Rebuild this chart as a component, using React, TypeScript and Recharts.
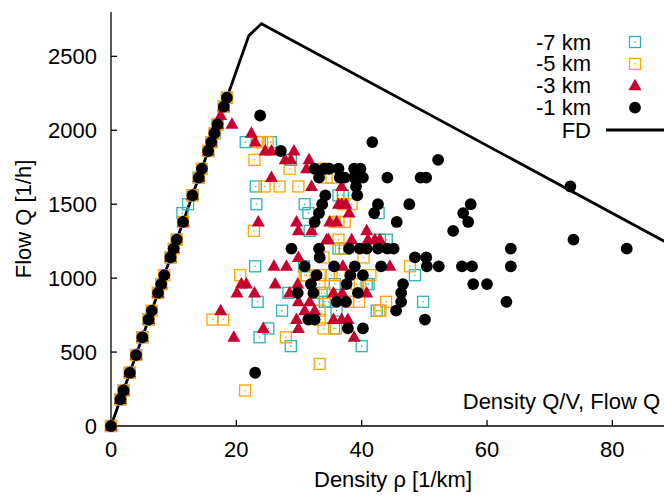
import { ComposedChart, Scatter, Line, XAxis, YAxis } from "recharts";

// density rho [1/km], flow Q [1/h]
const X_TICKS = [0, 20, 40, 60, 80];
const Y_TICKS = [0, 500, 1000, 1500, 2000, 2500];

const KM7: [number, number][] = [
  [0, 0], [1.5, 180], [2, 240], [3, 360], [4, 480], [5, 600], [6, 720], [7.5, 900],
  [8, 960], [9.5, 1140], [10.5, 1260], [11.4, 1440], [12.3, 1500], [13, 1560],
  [14, 1680], [15.5, 1860], [16, 1920], [16.6, 1980], [17, 2040], [18, 2160], [18.5, 2220],
  [21.5, 1920], [25.5, 1920], [28.7, 1800], [23.1, 1620], [23.2, 1500], [30.9, 1500],
  [31.5, 1440], [31.7, 1320], [36.3, 1560], [37.0, 1560], [42.7, 1440], [44.0, 1260],
  [42.9, 1260], [36.3, 1200], [37.3, 1200], [23.0, 1080], [30.8, 1080], [23.4, 840],
  [27.3, 780], [25.1, 660], [23.7, 600], [28.7, 540], [28.3, 900], [34.1, 840],
  [33.6, 900], [35.6, 660], [36.0, 780], [34.7, 840], [48.5, 1020], [49.8, 840],
  [42.4, 780], [40.0, 540], [35.7, 960], [40.8, 960], [41.1, 960], [31.2, 1020],
];

const KM5: [number, number][] = [
  [0, 0], [1.5, 180], [2, 240], [3, 360], [4, 480], [5, 600], [6, 720], [6.5, 780],
  [7.5, 900], [8, 960], [8.5, 1020], [9.5, 1140], [10, 1200], [10.5, 1260], [11.5, 1380],
  [13, 1560], [14, 1680], [14.5, 1740], [15.5, 1860], [16, 1920], [16.5, 1980], [17, 2040],
  [18, 2160], [18.5, 2220],
  [22.9, 1800], [23.5, 1920], [24.1, 1920], [25.0, 1920], [24.5, 1620], [26.9, 1620],
  [29.9, 1620], [28.5, 1740], [22.8, 1320], [33.9, 1740], [34.4, 1680], [35.2, 1680],
  [36.3, 1380], [37.0, 1500], [38.4, 1500], [35.7, 1380], [37.3, 1380], [36.3, 1260],
  [36.7, 1200], [33.9, 1140], [40.3, 1140], [47.7, 1080], [30.9, 1020], [35.2, 1020],
  [36.5, 1020], [41.4, 1020], [33.3, 960], [39.2, 960], [34.1, 900], [37.8, 840],
  [39.6, 840], [43.9, 840], [42.8, 780], [43.0, 780], [33.3, 720], [33.9, 660],
  [35.9, 660], [33.3, 420], [20.6, 1020], [27.9, 600], [21.4, 240], [16.2, 720],
  [17.9, 720], [31.2, 1020], [33.3, 1020], [33.3, 780], [39.7, 960],
];

const KM3: [number, number][] = [
  [0, 0], [1.5, 180], [2, 240], [3, 360], [4, 480], [5, 600], [6, 720], [7.5, 900],
  [8, 960], [9.5, 1140], [10, 1200], [11.5, 1380], [13, 1560], [14, 1680], [15.5, 1860],
  [16, 1920], [17, 2040], [18, 2160],
  [17.5, 2100], [19.3, 2040], [22.4, 1980], [23.0, 1920], [24.6, 1860], [25.6, 1860],
  [29.2, 1860], [27.8, 1800], [28.7, 1800], [31.6, 1800], [31.2, 1740], [25.6, 1680],
  [32.0, 1620], [36.8, 1620], [23.5, 1380], [29.6, 1380], [34.9, 1380], [36.0, 1380],
  [36.8, 1500], [36.3, 1500], [37.5, 1500], [38.0, 1440], [29.9, 1320], [32.0, 1320],
  [40.8, 1320], [34.4, 1260], [38.4, 1260], [41.0, 1260], [42.1, 1260], [42.9, 1260],
  [34.7, 1260], [37.0, 1080], [44.5, 1080], [35.5, 900], [36.9, 900], [40.8, 900],
  [31.7, 840], [30.9, 780], [32.5, 780], [35.5, 720], [36.8, 720], [37.8, 720],
  [38.8, 600], [26.0, 1080], [28.0, 1080], [29.9, 1140], [20.8, 960], [21.6, 960],
  [26.2, 960], [29.8, 960], [20.1, 900], [22.9, 900], [28.5, 900], [29.9, 840],
  [29.6, 720], [17.5, 780], [24.3, 660], [29.9, 660], [19.6, 600],
];

const KM1: [number, number][] = [
  [0, 0], [1.5, 180], [2, 240], [3, 360], [4, 480], [5, 600], [6, 720], [6.5, 780],
  [7.5, 900], [8, 960], [8.5, 1020], [9.5, 1140], [10, 1200], [10.5, 1260], [11.5, 1380],
  [13, 1560], [14, 1680], [14.5, 1740], [15.5, 1860], [16, 1920], [16.5, 1980], [17, 2040],
  [18, 2160], [18.5, 2220],
  [23.8, 2100], [27.1, 1860], [32.5, 1740], [34.0, 1740], [34.8, 1740], [36.3, 1740],
  [38.8, 1740], [39.8, 1740], [33.2, 1680], [36.5, 1680], [37.3, 1680], [38.8, 1680],
  [40.2, 1680], [44.1, 1680], [49.4, 1680], [50.3, 1680], [41.7, 1920], [52.2, 1800],
  [39.1, 1620], [73.3, 1620], [34.2, 1560], [39.3, 1560], [33.7, 1500], [42.6, 1500],
  [47.6, 1500], [57.4, 1500], [33.2, 1440], [42.0, 1440], [56.2, 1440], [32.5, 1380],
  [45.6, 1380], [57.0, 1380], [54.6, 1320], [73.8, 1260], [28.8, 1200], [33.2, 1200],
  [38.0, 1200], [39.7, 1200], [40.8, 1200], [42.6, 1200], [44.1, 1200], [45.1, 1200],
  [63.8, 1200], [82.3, 1200], [33.3, 1140], [48.5, 1140], [50.3, 1140], [30.9, 1080],
  [35.6, 1080], [38.9, 1080], [43.1, 1080], [50.4, 1080], [52.3, 1080], [56.0, 1080],
  [57.6, 1080], [63.8, 1080], [32.8, 1020], [38.2, 1020], [40.2, 1020], [31.9, 960],
  [37.6, 960], [46.6, 960], [57.8, 960], [60.0, 960], [29.8, 900], [32.3, 900],
  [39.4, 900], [46.3, 900], [36.0, 840], [37.5, 840], [46.3, 840], [63.1, 840],
  [45.5, 780], [31.5, 720], [32.5, 720], [50.1, 720], [37.8, 660], [40.2, 660],
  [23.0, 360],
];

// fundamental diagram
const FD: [number, number][] = [[0, 0], [22, 2640], [24, 2720], [90, 1210]];

const toPts = (arr: [number, number][]) => arr.map(([x, y]) => ({ x, y }));

const CYAN = "#2db3b3";
const ORANGE = "#ffa500";
const RED = "#c80030";
const FONT = '"Liberation Sans", Arial, sans-serif';
const FS = 22;

const Square = (color: string) => (p: any) => (
  <g>
    <rect x={p.cx - 5.5} y={p.cy - 5.5} width={11} height={11} fill="none" stroke={color} strokeWidth={1.3} />
    <circle cx={p.cx} cy={p.cy} r={0.8} fill={color} />
  </g>
);
const Triangle = (p: any) => (
  <path d={`M${p.cx},${p.cy - 7}L${p.cx + 6.5},${p.cy + 4.5}L${p.cx - 6.5},${p.cy + 4.5}Z`} fill={RED} />
);
const Dot = (p: any) => <circle cx={p.cx} cy={p.cy} r={5.9} fill="#000" />;

const SERIES = [
  { name: "-7 km", data: KM7, shape: Square(CYAN) },
  { name: "-5 km", data: KM5, shape: Square(ORANGE) },
  { name: "-3 km", data: KM3, shape: Triangle },
  { name: "-1 km", data: KM1, shape: Dot },
];

export default function App() {
  return (
    <div
      style={{
        position: "absolute", left: 0, top: 0, width: 664, height: 496,
        overflow: "hidden", background: "#fff", fontFamily: FONT,
      }}
    >
      <ComposedChart width={700} height={496} margin={{ top: 12, right: 25, bottom: 0, left: 0 }}>
        <XAxis
          xAxisId="bottom" dataKey="x" type="number" domain={[0, 90]} ticks={X_TICKS}
          height={70} tickSize={-6} tickMargin={21}
          stroke="#000" strokeWidth={1.3}
          tick={{ fill: "#000", fontSize: FS, fontFamily: FONT }}
          label={{
            content: (p: any) => (
              <text x={p.viewBox.x + p.viewBox.width / 2} y={p.viewBox.y + 53} textAnchor="middle"
                dominantBaseline="central" fontSize={FS} fontFamily={FONT} fill="#000">
                Density ρ [1/km]
              </text>
            ),
          }}
        />
        <XAxis
          xAxisId="top" orientation="top" type="number" domain={[0, 90]} ticks={X_TICKS}
          height={0} tickSize={-6} tick={false} stroke="#000" strokeWidth={1.3}
        />
        <YAxis
          yAxisId="left" dataKey="y" type="number" domain={[0, 2800]} ticks={Y_TICKS}
          width={111} tickSize={-6} tickMargin={20}
          stroke="#000" strokeWidth={1.3}
          tick={{ fill: "#000", fontSize: FS, fontFamily: FONT }}
          label={{
            content: (p: any) => {
              const cx = 23;
              const cy = p.viewBox.y + p.viewBox.height / 2;
              return (
                <text x={cx} y={cy} transform={`rotate(-90 ${cx} ${cy})`} textAnchor="middle"
                  dominantBaseline="central" fontSize={FS} fontFamily={FONT} fill="#000">
                  Flow Q [1/h]
                </text>
              );
            },
          }}
        />
        {SERIES.map((s) => (
          <Scatter key={s.name} name={s.name} data={toPts(s.data)} xAxisId="bottom" yAxisId="left"
            shape={s.shape} isAnimationActive={false} />
        ))}
        <Line data={toPts(FD)} dataKey="y" xAxisId="bottom" yAxisId="left" type="linear"
          stroke="#000" strokeWidth={2.8} dot={false} activeDot={false} isAnimationActive={false} />
      </ComposedChart>

      <svg width={664} height={496} style={{ position: "absolute", left: 0, top: 0, pointerEvents: "none" }}>
        {SERIES.map((s, i) => {
          const y = 42 + i * 21.9;
          return (
            <g key={s.name}>
              <text x={591} y={y} textAnchor="end" dominantBaseline="central" fontSize={FS} fontFamily={FONT}>
                {s.name}
              </text>
              {s.shape({ cx: 635, cy: y })}
            </g>
          );
        })}
        <text x={591} y={130} textAnchor="end" dominantBaseline="central" fontSize={FS} fontFamily={FONT}>
          FD
        </text>
        <line x1={606} y1={130} x2={676} y2={130} stroke="#000" strokeWidth={2.8} />
        <text x={660} y={401} textAnchor="end" dominantBaseline="central" fontSize={FS} fontFamily={FONT}>
          Density Q/V, Flow Q
        </text>
      </svg>
    </div>
  );
}
